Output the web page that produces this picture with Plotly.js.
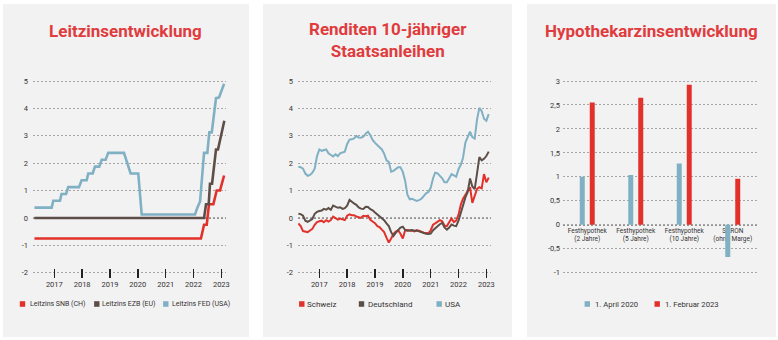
<!DOCTYPE html>
<html><head><meta charset="utf-8">
<script src="https://cdn.plot.ly/plotly-3.0.1.min.js"></script>
<style>html,body{margin:0;padding:0;background:#fff;}#chart{width:778px;height:340px;}</style>
</head><body><div id="chart"></div>
<script>
// ---------- Titles ----------
const panelTitles = ["Leitzinsentwicklung", "Renditen 10-jähriger<br>Staatsanleihen", "Hypothekarzinsentwicklung"];

// ---------- Chart 1: Leitzinsen (step points) ----------
const rateNames = ["Leitzins SNB (CH)", "Leitzins EZB (EU)", "Leitzins FED (USA)"];
const snbDates = ["2016-04-15","2022-04-08","2022-05-19","2022-06-23","2022-07-23","2022-09-18","2022-11-01","2022-12-14","2023-02-06"];
const snbValues = [-0.75,-0.75,-0.25,-0.25,0.5,0.5,1.0,1.0,1.55];
const ezbDates = ["2016-04-15","2022-05-19","2022-06-14","2022-07-19","2022-08-05","2022-09-01","2022-10-23","2022-11-18","2023-02-09"];
const ezbValues = [0,0,0.5,0.5,1.25,1.25,2.5,2.5,3.55];
const fedDates = ["2016-04-15","2016-11-27","2016-12-18","2017-03-16","2017-04-05","2017-06-04","2017-07-02","2017-11-20","2017-12-25",
  "2018-03-01","2018-03-22","2018-05-19","2018-06-18","2018-08-13","2018-09-14","2018-11-05","2018-12-09","2019-07-03","2019-09-29",
  "2020-01-07","2020-02-21","2022-01-21","2022-02-20","2022-03-28","2022-05-19","2022-07-01","2022-07-27","2022-08-28","2022-10-23","2022-12-02","2023-02-06"];
const fedValues = [0.375,0.375,0.625,0.625,0.875,0.875,1.125,1.125,1.375,
  1.375,1.625,1.625,1.875,1.875,2.125,2.125,2.375,2.375,1.625,
  1.625,0.125,0.125,0.375,0.6,2.375,2.375,3.125,3.125,4.375,4.4,4.9];

// ---------- Chart 2: Renditen (monthly) ----------
const yieldNames = ["Schweiz", "Deutschland", "USA"];
const yieldMonths = ["2016-04","2016-05","2016-06","2016-07","2016-08","2016-09","2016-10","2016-11","2016-12",
  "2017-01","2017-02","2017-03","2017-04","2017-05","2017-06","2017-07","2017-08","2017-09","2017-10","2017-11","2017-12",
  "2018-01","2018-02","2018-03","2018-04","2018-05","2018-06","2018-07","2018-08","2018-09","2018-10","2018-11","2018-12",
  "2019-01","2019-02","2019-03","2019-04","2019-05","2019-06","2019-07","2019-08","2019-09","2019-10","2019-11","2019-12",
  "2020-01","2020-02","2020-03","2020-04","2020-05","2020-06","2020-07","2020-08","2020-09","2020-10","2020-11","2020-12",
  "2021-01","2021-02","2021-03","2021-04","2021-05","2021-06","2021-07","2021-08","2021-09","2021-10","2021-11","2021-12",
  "2022-01","2022-02","2022-03","2022-04","2022-05","2022-06","2022-07","2022-08","2022-09","2022-10","2022-11","2022-12",
  "2023-01","2023-02"];
const yieldCH = [-0.2,-0.3,-0.48,-0.5,-0.52,-0.46,-0.4,-0.25,-0.15,
  -0.12,-0.1,-0.16,-0.08,-0.13,-0.08,0.05,0.0,-0.06,-0.02,-0.05,-0.08,
  0.08,0.13,0.1,0.1,0.05,0.03,0.0,0.08,0.06,0.08,-0.07,-0.13,
  -0.19,-0.3,-0.33,-0.43,-0.52,-0.72,-0.9,-0.75,-0.58,-0.5,-0.45,-0.58,
  -0.75,-0.45,-0.44,-0.47,-0.46,-0.49,-0.45,-0.47,-0.52,-0.54,-0.55,-0.56,
  -0.45,-0.25,-0.2,-0.15,-0.08,-0.12,-0.28,-0.3,-0.15,-0.02,-0.15,-0.1,
  0.12,0.5,0.7,0.84,0.96,1.12,0.55,0.82,1.06,1.12,1.08,1.6,
  1.3,1.47];
const yieldDE = [0.15,0.14,0.08,-0.1,-0.14,-0.09,-0.04,0.15,0.22,
  0.25,0.27,0.33,0.3,0.36,0.3,0.45,0.41,0.37,0.39,0.33,0.36,
  0.45,0.66,0.58,0.53,0.48,0.38,0.34,0.33,0.41,0.4,0.32,0.28,
  0.2,0.12,0.07,0.0,-0.08,-0.2,-0.3,-0.52,-0.66,-0.54,-0.42,-0.35,
  -0.32,-0.44,-0.47,-0.45,-0.44,-0.47,-0.46,-0.49,-0.53,-0.56,-0.58,-0.59,
  -0.57,-0.45,-0.36,-0.3,-0.23,-0.18,-0.35,-0.43,-0.35,-0.24,-0.28,-0.3,
  -0.1,0.2,0.5,0.75,0.95,1.44,1.15,1.05,1.63,2.22,2.1,2.16,
  2.26,2.42];
const yieldUS = [1.87,1.85,1.8,1.62,1.54,1.57,1.65,1.8,2.25,
  2.5,2.45,2.48,2.5,2.36,2.3,2.24,2.32,2.26,2.36,2.38,2.42,
  2.7,2.86,2.87,2.9,2.99,2.94,2.93,2.97,3.08,3.15,3.02,2.85,
  2.74,2.65,2.56,2.5,2.35,2.1,2.05,1.69,1.72,1.78,1.85,1.85,
  1.68,1.35,0.85,0.68,0.7,0.66,0.62,0.65,0.7,0.8,0.9,0.95,
  1.1,1.45,1.65,1.63,1.55,1.45,1.3,1.3,1.45,1.6,1.55,1.5,
  1.78,1.95,2.2,2.75,2.95,3.15,2.95,2.9,3.6,4.02,3.9,3.62,
  3.55,3.79];

const yearTickVals = ["2017-01-01","2018-01-01","2019-01-01","2020-01-01","2021-01-01","2022-01-01","2023-01-01"];
const yearTickText = ["2017","2018","2019","2020","2021","2022","2023"];
const rateTickVals = [-2,-1,0,1,2,3,4,5];
const rateTickText = ["-2","-1","0","1","2","3","4","5"];

// ---------- Chart 3: Hypothekarzinsen ----------
const mortgageCategories = ["Festhypothek<br>(2 Jahre)", "Festhypothek<br>(5 Jahre)", "Festhypothek<br>(10 Jahre)", "SARON<br>(ohne Marge)"];
const mortgageSeriesNames = ["1. April 2020", "1. Februar 2023"];
const mortgageApr2020 = [1.0, 1.04, 1.28, -0.67];
const mortgageFeb2023 = [2.55, 2.65, 2.92, 0.96];
const mortgageTickVals = [-1,-0.5,0,0.5,1,1.5,2,2.5,3];
const mortgageTickText = ["-1","-0,5","0","0,5","1","1,5","2","2,5","3"];

// ---------- Styles ----------
const RED = "#e2312b", BROWN = "#5d4e47", BLUE = "#7fb0c3", TITLE_RED = "#e03b3d";
const PANEL = "#f3f2f2", GRID = "#a6a6a6", TXT = "#333333";
const W = 778, H = 340;
const px = v => v / W, py = v => 1 - v / H;
const FONT = "Roboto, 'Noto Sans', sans-serif";

const traces = [
  {x: snbDates, y: snbValues, name: rateNames[0], type: "scatter", mode: "lines", line: {color: RED, width: 2.6}, xaxis: "x", yaxis: "y"},
  {x: ezbDates, y: ezbValues, name: rateNames[1], type: "scatter", mode: "lines", line: {color: BROWN, width: 2.6}, xaxis: "x", yaxis: "y"},
  {x: fedDates, y: fedValues, name: rateNames[2], type: "scatter", mode: "lines", line: {color: BLUE, width: 2.6}, xaxis: "x", yaxis: "y"},
  {x: yieldMonths, y: yieldCH, name: yieldNames[0], type: "scatter", mode: "lines", line: {color: RED, width: 2}, xaxis: "x2", yaxis: "y2"},
  {x: yieldMonths, y: yieldDE, name: yieldNames[1], type: "scatter", mode: "lines", line: {color: BROWN, width: 2}, xaxis: "x2", yaxis: "y2"},
  {x: yieldMonths, y: yieldUS, name: yieldNames[2], type: "scatter", mode: "lines", line: {color: BLUE, width: 2}, xaxis: "x2", yaxis: "y2"},
  {x: mortgageCategories, y: mortgageApr2020, name: mortgageSeriesNames[0], type: "bar", marker: {color: BLUE}, xaxis: "x3", yaxis: "y3"},
  {x: mortgageCategories, y: mortgageFeb2023, name: mortgageSeriesNames[1], type: "bar", marker: {color: RED}, xaxis: "x3", yaxis: "y3"}
];

const dateRange = ["2016-03-27", "2023-03-03"];
const xDateAxis = (l, r) => ({
  domain: [px(l), px(r)], type: "date", range: dateRange, anchor: "free", position: py(268),
  tickvals: yearTickVals, ticktext: yearTickText, ticks: "outside", ticklen: 9, tickwidth: 1.4, tickcolor: "#222",
  showgrid: false, showline: false, zeroline: false, tickfont: {size: 7.5, color: TXT, family: FONT}
});
// ranges padded slightly so the outermost dotted gridlines are drawn
const yAxis = (anchor, range, vals, text, standoff, pad) => ({
  domain: [py(272.7 + pad), py(81 - pad)], range: range, anchor: anchor, tickvals: vals, ticktext: text,
  showgrid: true, gridcolor: GRID, griddash: "2px,2px", gridwidth: 1, zeroline: false, showline: false, ticks: "",
  ticklabelstandoff: standoff, tickfont: {size: 7.5, color: TXT, family: FONT}
});

const shapes = [];
[[3, 249], [263, 512], [527, 776]].forEach(([a, b]) => shapes.push({
  type: "rect", xref: "paper", yref: "paper", x0: px(a), x1: px(b), y0: py(337), y1: py(4),
  fillcolor: PANEL, line: {width: 0}, layer: "below"
}));
[["x", "y"], ["x2", "y2"], ["x3", "y3"]].forEach(([xa, ya]) => shapes.push({
  type: "line", xref: xa + " domain", yref: ya, x0: 0, x1: 1, y0: 0, y1: 0,
  line: {color: "#333", width: 1.2, dash: "2px,2px"}, layer: "below"
}));

const annotations = [];
annotations.push({text: "<b>" + panelTitles[0] + "</b>", x: px(125.5), y: py(31), xref: "paper", yref: "paper", showarrow: false, xanchor: "center", yanchor: "middle", font: {size: 17, color: TITLE_RED, family: FONT}});
annotations.push({text: "<b>" + panelTitles[1] + "</b>", x: px(388), y: py(40), xref: "paper", yref: "paper", showarrow: false, xanchor: "center", yanchor: "middle", font: {size: 17, color: TITLE_RED, family: FONT}});
annotations.push({text: "<b>" + panelTitles[2] + "</b>", x: px(651.5), y: py(31), xref: "paper", yref: "paper", showarrow: false, xanchor: "center", yanchor: "middle", font: {size: 17, color: TITLE_RED, family: FONT}});

function legendItem(sqCenter, textX, label, color, size) {
  shapes.push({type: "rect", xref: "paper", yref: "paper", x0: px(sqCenter - 2.7), x1: px(sqCenter + 2.7), y0: py(306.8), y1: py(301.2), fillcolor: color, line: {width: 0}});
  annotations.push({text: label, x: px(textX), y: py(304), xref: "paper", yref: "paper", showarrow: false, xanchor: "left", yanchor: "middle", borderpad: 0, font: {size: size, color: TXT, family: FONT}});
}
legendItem(22.5, 28.5, rateNames[0], RED, 7);
legendItem(96.8, 101, rateNames[1], BROWN, 7);
legendItem(165.8, 171, rateNames[2], BLUE, 7);
legendItem(301.8, 306, yieldNames[0], RED, 8);
legendItem(361.5, 366.5, yieldNames[1], BROWN, 8);
legendItem(439.2, 443.5, yieldNames[2], BLUE, 8);
legendItem(587.3, 594, mortgageSeriesNames[0], BLUE, 7.7);
legendItem(657.2, 664, mortgageSeriesNames[1], RED, 7.7);

const layout = {
  width: W, height: H, margin: {l: 0, r: 0, t: 0, b: 0},
  paper_bgcolor: "#ffffff", plot_bgcolor: "rgba(0,0,0,0)", showlegend: false,
  font: {family: FONT, color: TXT},
  xaxis: xDateAxis(33, 226),
  yaxis: yAxis("x", [-2.05, 5.05], rateTickVals, rateTickText, 4, 1.37),
  xaxis2: xDateAxis(298, 491),
  yaxis2: yAxis("x2", [-2.05, 5.05], rateTickVals, rateTickText, 4, 1.37),
  xaxis3: {domain: [px(563), px(757)], type: "category", range: [-0.5, 3.5], anchor: "free", position: py(225),
    ticks: "", showgrid: false, showline: false, zeroline: false, layer: "below traces",
    tickfont: {size: 6.5, color: TXT, family: FONT}},
  yaxis3: yAxis("x3", [-1.03, 3.03], mortgageTickVals, mortgageTickText, 2, 1.44),
  barmode: "group", bargap: 0.588, bargroupgap: 0.5,
  shapes: shapes, annotations: annotations
};

Plotly.newPlot("chart", traces, layout, {staticPlot: true, displayModeBar: false});
</script>
</body></html>
